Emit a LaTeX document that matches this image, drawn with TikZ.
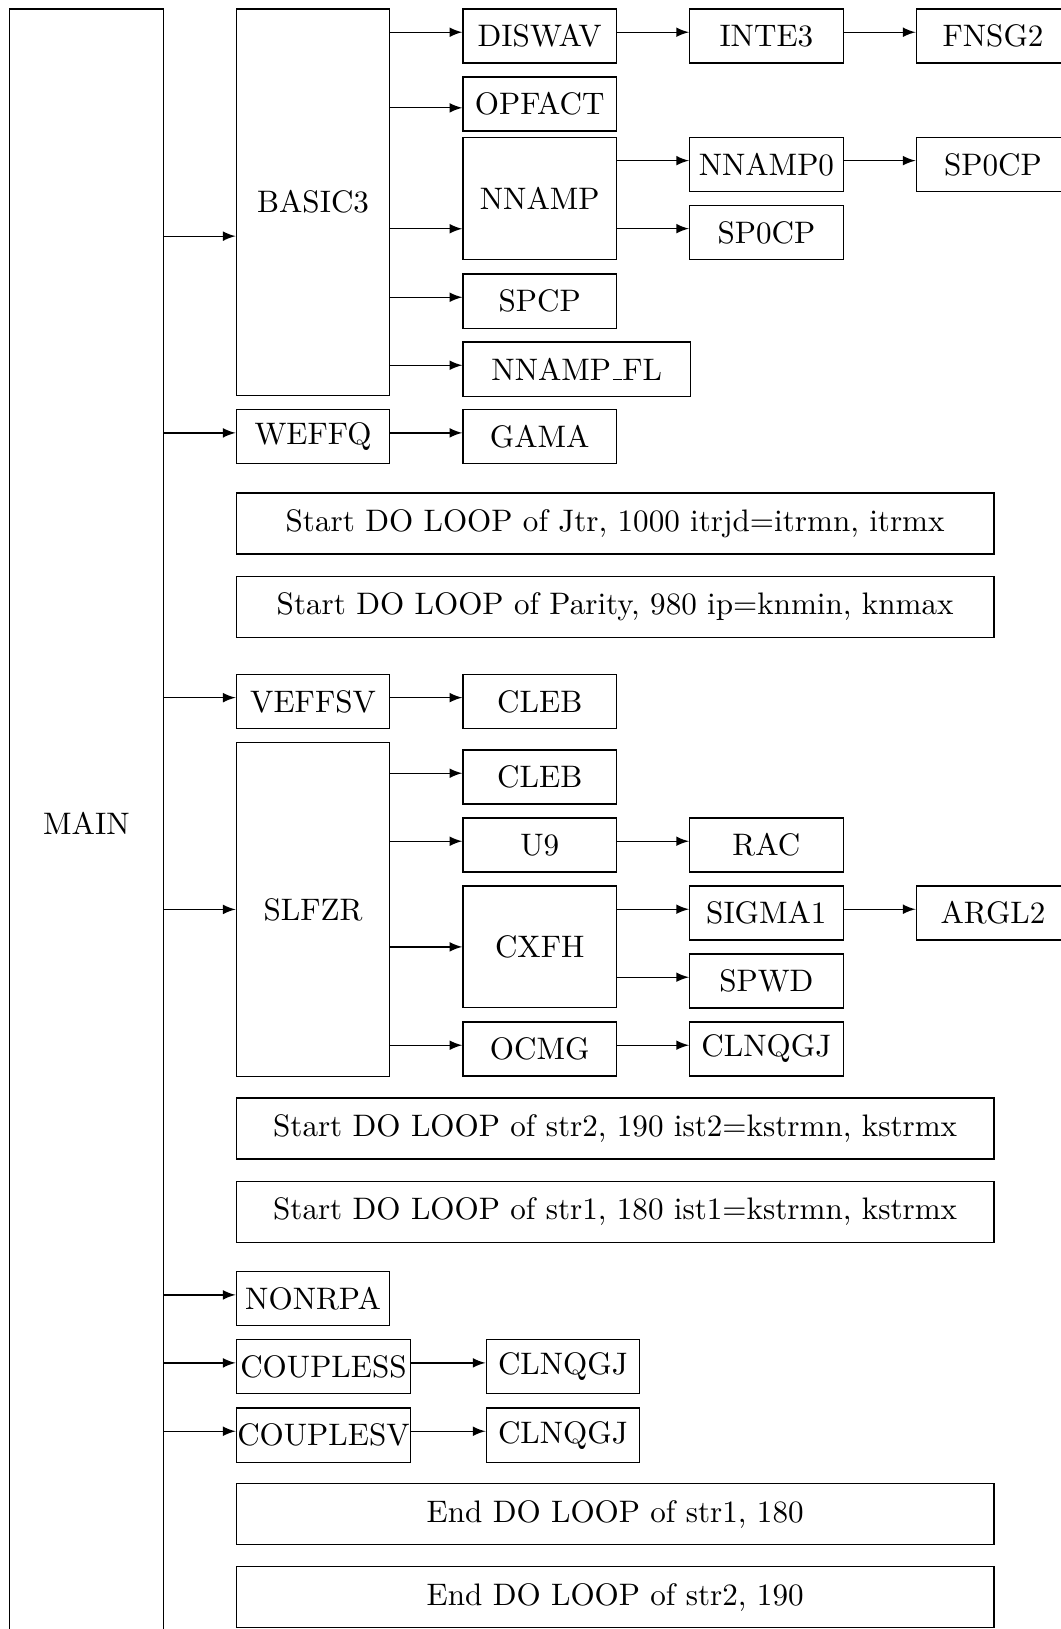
\documentclass[tikz,border=0pt]{standalone}

\begin{document}
\begin{tikzpicture}[>=latex,
  box/.style={draw, anchor=north west, inner sep=1pt, minimum width=1.7cm, minimum height=0.6cm,
    font=\fontsize{9.8}{12}\selectfont},
  loopbox/.style={box, minimum width=8.39cm, minimum height=0.675cm}]
  \useasboundingbox (0,0) rectangle (11.739,-18.04);

  \node(MAIN)[box, minimum height=18.04cm] at (0.10,-0.092) {MAIN};

  % basic3
  \node(BASIC)[box, minimum height=4.28cm] at (2.61,-0.092) {BASIC3};
  \node(DISWAV)[box] at (5.12,-0.092) {DISWAV};
  \node(INTE)[box] at (7.63,-0.092) {INTE3};
  \node(FNSG)[box] at (10.14,-0.092) {FNSG2};
  \node(OPFACT)[box] at (5.12,-0.845) {OPFACT};
  \node(NNAMP)[box, minimum height=1.35cm] at (5.12,-1.514) {NNAMP};
  \node(NNAMPnul)[box] at (7.63,-1.514) {NNAMP0};
  \node(SPa)[box] at (10.14,-1.514) {SP0CP};
  \node(SPb)[box] at (7.63,-2.267) {SP0CP};
  \node(SPCP)[box] at (5.12,-3.027) {SPCP};
  \node(NNAMPFL)[box, minimum width=2.52cm] at (5.12,-3.78) {NNAMP\kern.06em\vbox{\hrule width.3em}FL};

  \node(WEFFQ)[box] at (2.61,-4.529) {WEFFQ};
  \node(GAMA)[box] at (5.12,-4.529) {GAMA};

  \node(Jtr)[loopbox] at (2.61,-5.452) {Start DO LOOP of Jtr, 1000 itrjd=itrmn, itrmx};
  \node(Parity)[loopbox] at (2.61,-6.375) {Start DO LOOP of Parity, 980 ip=knmin, knmax};

  \node(VEFFSV)[box] at (2.61,-7.461) {VEFFSV};
  \node(CLEBa)[box] at (5.12,-7.461) {CLEB};

  % slfzr
  \node(SLFZR)[box, minimum height=3.70cm] at (2.61,-8.214) {SLFZR};
  \node(CLEBb)[box] at (5.12,-8.298) {CLEB};
  \node(U)[box] at (5.12,-9.051) {U9};
  \node(RAC)[box] at (7.63,-9.051) {RAC};
  \node(CXFH)[box, minimum height=1.35cm] at (5.12,-9.804) {CXFH};
  \node(SIGMA)[box] at (7.63,-9.804) {SIGMA1};
  \node(ARGL)[box] at (10.14,-9.804) {ARGL2};
  \node(SPWD)[box] at (7.63,-10.557) {SPWD};
  \node(OCMG)[box] at (5.12,-11.31) {OCMG};
  \node(CLNa)[box] at (7.63,-11.31) {CLNQGJ};

  \node(strB)[loopbox] at (2.61,-12.152) {Start DO LOOP of str2, 190 ist2=kstrmn, kstrmx};
  \node(strA)[loopbox] at (2.61,-13.075) {Start DO LOOP of str1, 180 ist1=kstrmn, kstrmx};

  \node(NONRPA)[box] at (2.61,-14.075) {NONRPA};
  \node(COUPLESS)[box, minimum width=1.93cm, inner xsep=0pt] at (2.61,-14.828) {COUPLESS};
  \node(CLNb)[box] at (5.377,-14.828) {CLNQGJ};
  \node(COUPLESV)[box, minimum width=1.93cm, inner xsep=0pt] at (2.61,-15.585) {COUPLESV};
  \node(CLNc)[box] at (5.377,-15.585) {CLNQGJ};

  \node(endA)[loopbox] at (2.61,-16.423) {End DO LOOP of str1, 180};
  \node(endB)[loopbox] at (2.61,-17.342) {End DO LOOP of str2, 190};

  % kald fra main
  \draw[->] ([yshift=-10.7pt]MAIN.east |- BASIC.west) -- ([yshift=-10.7pt]BASIC.west);
  \draw[->] ([yshift=1.2pt]MAIN.east |- WEFFQ.west) -- ([yshift=1.2pt]WEFFQ.west);
  \draw[->] ([yshift=1.2pt]MAIN.east |- VEFFSV.west) -- ([yshift=1.2pt]VEFFSV.west);
  \draw[->] (MAIN.east |- SLFZR.west) -- (SLFZR.west);
  \draw[->] ([yshift=1.2pt]MAIN.east |- NONRPA.west) -- ([yshift=1.2pt]NONRPA.west);
  \draw[->] ([yshift=1.2pt]MAIN.east |- COUPLESS.west) -- ([yshift=1.2pt]COUPLESS.west);
  \draw[->] ([yshift=1.2pt]MAIN.east |- COUPLESV.west) -- ([yshift=1.2pt]COUPLESV.west);
  % basic3
  \draw[->] ([yshift=1.2pt]BASIC.east |- DISWAV.west) -- ([yshift=1.2pt]DISWAV.west);
  \draw[->] ([yshift=1.2pt]DISWAV.east) -- ([yshift=1.2pt]INTE.west);
  \draw[->] ([yshift=1.2pt]INTE.east) -- ([yshift=1.2pt]FNSG.west);
  \draw[->] ([yshift=-1.2pt]BASIC.east |- OPFACT.west) -- ([yshift=-1.2pt]OPFACT.west);
  \draw[->] ([yshift=-9.6pt]BASIC.east |- NNAMP.west) -- ([yshift=-9.6pt]NNAMP.west);
  \draw[->] ([yshift=1.2pt]NNAMP.east |- NNAMPnul.west) -- ([yshift=1.2pt]NNAMPnul.west);
  \draw[->] ([yshift=1.2pt]NNAMPnul.east) -- ([yshift=1.2pt]SPa.west);
  \draw[->] ([yshift=1.2pt]NNAMP.east |- SPb.west) -- ([yshift=1.2pt]SPb.west);
  \draw[->] ([yshift=1.2pt]BASIC.east |- SPCP.west) -- ([yshift=1.2pt]SPCP.west);
  \draw[->] ([yshift=1.2pt]BASIC.east |- NNAMPFL.west) -- ([yshift=1.2pt]NNAMPFL.west);
  \draw[->] ([yshift=1.2pt]WEFFQ.east) -- ([yshift=1.2pt]GAMA.west);
  \draw[->] ([yshift=1.2pt]VEFFSV.east) -- ([yshift=1.2pt]CLEBa.west);
  % slfzr
  \draw[->] ([yshift=1.2pt]SLFZR.east |- CLEBb.west) -- ([yshift=1.2pt]CLEBb.west);
  \draw[->] ([yshift=1.2pt]SLFZR.east |- U.west) -- ([yshift=1.2pt]U.west);
  \draw[->] ([yshift=1.2pt]U.east) -- ([yshift=1.2pt]RAC.west);
  \draw[->] (SLFZR.east |- CXFH.west) -- (CXFH.west);
  \draw[->] ([yshift=1.2pt]CXFH.east |- SIGMA.west) -- ([yshift=1.2pt]SIGMA.west);
  \draw[->] ([yshift=1.2pt]SIGMA.east) -- ([yshift=1.2pt]ARGL.west);
  \draw[->] ([yshift=1.2pt]CXFH.east |- SPWD.west) -- ([yshift=1.2pt]SPWD.west);
  \draw[->] ([yshift=1.2pt]SLFZR.east |- OCMG.west) -- ([yshift=1.2pt]OCMG.west);
  \draw[->] ([yshift=1.2pt]OCMG.east) -- ([yshift=1.2pt]CLNa.west);
  \draw[->] ([yshift=1.2pt]COUPLESS.east) -- ([yshift=1.2pt]CLNb.west);
  \draw[->] ([yshift=1.2pt]COUPLESV.east) -- ([yshift=1.2pt]CLNc.west);
\end{tikzpicture}
\end{document}
